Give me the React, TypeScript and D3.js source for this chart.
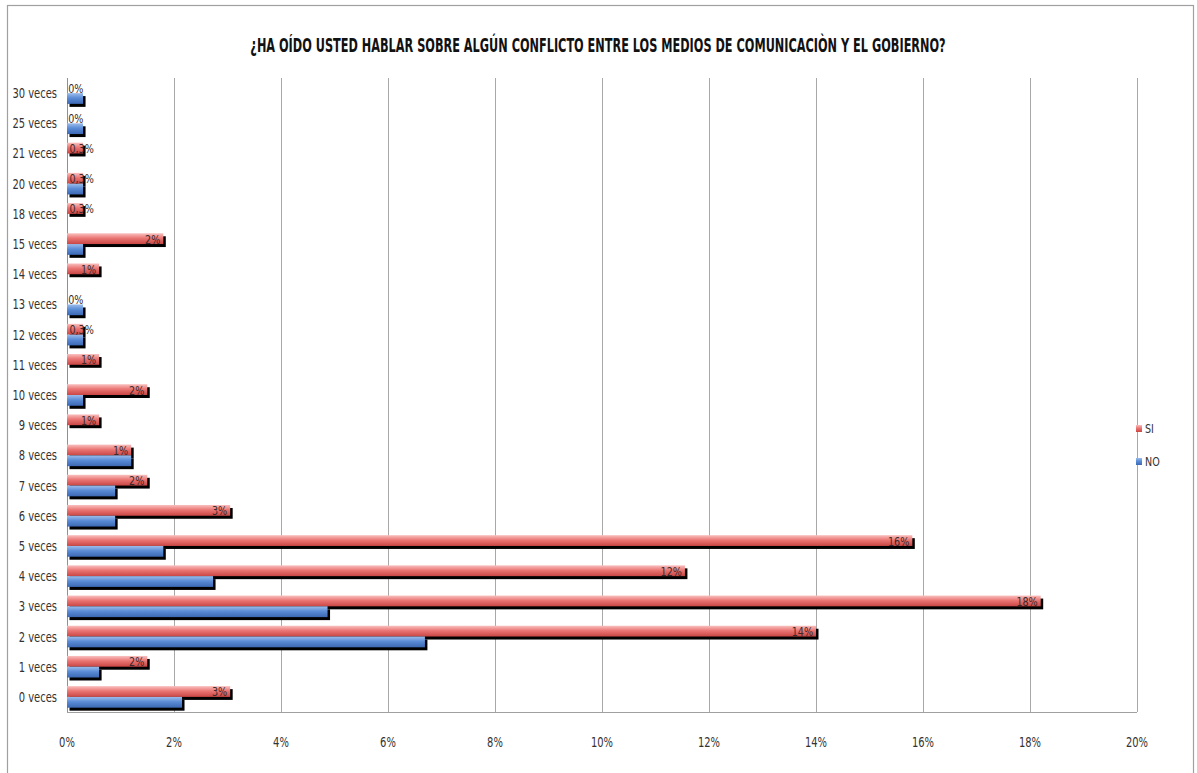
import { useRef, useEffect } from "react";
import * as d3 from "d3";

// categories top -> bottom
const categories = [
  "30 veces", "25 veces", "21 veces", "20 veces", "18 veces", "15 veces", "14 veces",
  "13 veces", "12 veces", "11 veces", "10 veces", "9 veces", "8 veces", "7 veces",
  "6 veces", "5 veces", "4 veces", "3 veces", "2 veces", "1 veces", "0 veces",
];
// percent values
const siValues = [0, 0, 0.3, 0.3, 0.3, 1.8, 0.6, 0, 0.3, 0.6, 1.5, 0.6, 1.2, 1.5, 3.05, 15.8, 11.55, 18.2, 14.0, 1.5, 3.05];
const noValues = [0.3, 0.3, 0, 0.3, 0, 0.3, 0, 0.3, 0.3, 0, 0.3, 0, 1.2, 0.9, 0.9, 1.8, 2.73, 4.87, 6.69, 0.6, 2.15];
const siLabels = ["0%", "0%", "0,3%", "0,3%", "0,3%", "2%", "1%", "0%", "0,3%", "1%", "2%", "1%", "1%", "2%", "3%", "16%", "12%", "18%", "14%", "2%", "3%"];
const xTicks = [0, 2, 4, 6, 8, 10, 12, 14, 16, 18, 20];

const title = "¿HA OÍDO USTED HABLAR SOBRE ALGÚN CONFLICTO ENTRE LOS MEDIOS DE COMUNICACIÒN Y EL GOBIERNO?";
const font = "'Liberation Sans Narrow', 'DejaVu Sans Condensed', 'Arial Narrow', sans-serif";
const sx = 0.82; // horizontal squeeze for Calibri-like narrow text

const App = () => {
  const svgRef = useRef<SVGSVGElement | null>(null);

  useEffect(() => {
    const width = 1197;
    const height = 773;
    const plot = { left: 67, right: 1137, top: 78, bottom: 712 };

    const svg = d3.select(svgRef.current);
    svg.selectAll("*").remove();

    const defs = svg.append("defs");
    const redGrad = defs.append("linearGradient").attr("id", "gRed").attr("x1", 0).attr("y1", 0).attr("x2", 0).attr("y2", 1);
    redGrad.append("stop").attr("offset", "0%").attr("stop-color", "#f9c0bf");
    redGrad.append("stop").attr("offset", "45%").attr("stop-color", "#ea7674");
    redGrad.append("stop").attr("offset", "100%").attr("stop-color", "#c94644");
    const blueGrad = defs.append("linearGradient").attr("id", "gBlue").attr("x1", 0).attr("y1", 0).attr("x2", 0).attr("y2", 1);
    blueGrad.append("stop").attr("offset", "0%").attr("stop-color", "#9dbdeb");
    blueGrad.append("stop").attr("offset", "45%").attr("stop-color", "#5b8cd6");
    blueGrad.append("stop").attr("offset", "100%").attr("stop-color", "#3c68b4");

    svg.append("rect").attr("width", width).attr("height", height).attr("fill", "#fff");
    // chart border
    svg.append("rect")
      .attr("x", 7.5).attr("y", 5.5).attr("width", 1186).attr("height", 780)
      .attr("fill", "none").attr("stroke", "#a0a0a0").attr("stroke-width", 1.2);

    // title, squeezed to the reference width
    const titleG = svg.append("g");
    const titleText = titleG.append("text")
      .attr("x", 0).attr("y", 0)
      .attr("text-anchor", "middle")
      .attr("font-family", font).attr("font-weight", "bold").attr("font-size", 19)
      .attr("fill", "#111")
      .text(title);
    const natural = (titleText.node() as SVGTextElement).getComputedTextLength() || 696;
    titleG.attr("transform", `translate(598,52) scale(${696 / natural},1)`);

    const x = d3.scaleLinear().domain([0, 20]).range([plot.left, plot.right]);
    const y = d3.scaleBand<string>().domain(categories).range([plot.top, plot.bottom]);
    const sub = d3.scaleBand<string>().domain(["SI", "NO"]).range([0, y.bandwidth()]).paddingOuter(0.4).paddingInner(0);

    // grid
    svg.append("g").selectAll("line").data(xTicks.slice(1)).join("line")
      .attr("x1", d => x(d) + 0.5).attr("x2", d => x(d) + 0.5)
      .attr("y1", plot.top).attr("y2", plot.bottom)
      .attr("stroke", "#a8a8a8").attr("stroke-width", 1);
    svg.append("line")
      .attr("x1", plot.left).attr("x2", plot.right)
      .attr("y1", plot.bottom + 0.5).attr("y2", plot.bottom + 0.5)
      .attr("stroke", "#a0a0a0");
    svg.append("line")
      .attr("x1", plot.left + 0.5).attr("x2", plot.left + 0.5)
      .attr("y1", plot.top).attr("y2", plot.bottom)
      .attr("stroke", "#909090");

    // x tick labels
    svg.append("g").attr("transform", `scale(${sx},1)`).selectAll("text").data(xTicks).join("text")
      .attr("x", d => x(d) / sx).attr("y", 747)
      .attr("text-anchor", "middle")
      .attr("font-family", font).attr("font-size", 13.5).attr("fill", "#333")
      .text(d => `${d}%`);

    // category labels
    svg.append("g").attr("transform", `scale(${sx},1)`).selectAll("text").data(categories).join("text")
      .attr("x", 57 / sx).attr("y", d => (y(d) as number) + y.bandwidth() / 2 + 5)
      .attr("text-anchor", "end")
      .attr("font-family", font).attr("font-size", 13.5).attr("fill", "#333")
      .text(d => d);

    const rows = categories.map((c, i) => ({ c, si: siValues[i], no: noValues[i], label: siLabels[i] }));
    const bh = sub.bandwidth();
    const siY = (c: string) => (y(c) as number) + (sub("SI") as number);
    const noY = (c: string) => (y(c) as number) + (sub("NO") as number);

    // shadows
    const sh = svg.append("g").attr("fill", "#000");
    sh.selectAll("rect.s1").data(rows.filter(r => r.si > 0)).join("rect")
      .attr("x", x(0) + 2.5).attr("y", r => siY(r.c) + 3)
      .attr("width", r => x(r.si) - x(0)).attr("height", bh);
    sh.selectAll("rect.s2").data(rows.filter(r => r.no > 0)).join("rect")
      .attr("x", x(0) + 2.5).attr("y", r => noY(r.c) + 3)
      .attr("width", r => x(r.no) - x(0)).attr("height", bh);

    // bars
    svg.append("g").selectAll("rect").data(rows.filter(r => r.si > 0)).join("rect")
      .attr("x", x(0)).attr("y", r => siY(r.c))
      .attr("width", r => x(r.si) - x(0)).attr("height", bh)
      .attr("fill", "url(#gRed)");
    svg.append("g").selectAll("rect").data(rows.filter(r => r.no > 0)).join("rect")
      .attr("x", x(0)).attr("y", r => noY(r.c))
      .attr("width", r => x(r.no) - x(0)).attr("height", bh)
      .attr("fill", "url(#gBlue)");

    // data labels (SI series)
    svg.append("g").attr("transform", `scale(${sx},1)`).selectAll("text").data(rows).join("text")
      .attr("x", r => {
        const w = r.label.length * 5.2;
        return Math.max(x(r.si) - 3, x(0) + 6 + w) / sx;
      })
      .attr("y", r => siY(r.c) + bh / 2 + 5)
      .attr("text-anchor", "end")
      .attr("font-family", font).attr("font-size", 13).attr("fill", "#3a2a2a")
      .text(r => r.label);

    // legend
    const legend = [
      { name: "SI", fill: "url(#gRed)", y: 429 },
      { name: "NO", fill: "url(#gBlue)", y: 462 },
    ];
    const lg = svg.append("g").selectAll("g").data(legend).join("g");
    lg.append("rect")
      .attr("x", 1136).attr("y", d => d.y - 4).attr("width", 6).attr("height", 7)
      .attr("fill", d => d.fill);
    lg.append("text")
      .attr("transform", `scale(${sx},1)`)
      .attr("x", 1145 / sx).attr("y", d => d.y + 4.5)
      .attr("font-family", font).attr("font-size", 13).attr("fill", "#333")
      .text(d => d.name);
  }, []);

  return (
    <svg
      ref={svgRef}
      width={1197}
      height={773}
      style={{ position: "absolute", top: 0, left: 0, display: "block" }}
    />
  );
};

export default App;
